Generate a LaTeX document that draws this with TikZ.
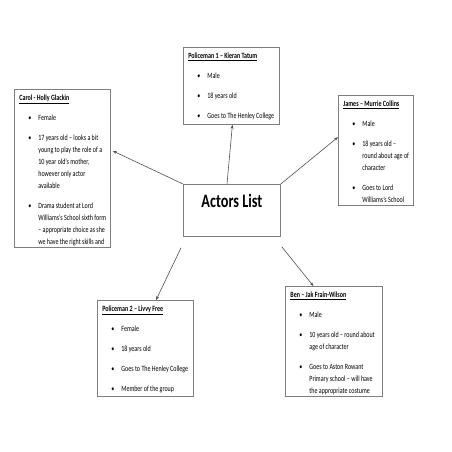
\documentclass[tikz,border=0pt]{standalone}
\usepackage{fontspec}
\setmainfont{Carlito}[FakeStretch=0.75]
\usepackage{tikz}
\usetikzlibrary{calc,arrows.meta}
\definecolor{boxgray}{HTML}{7F7F7F}
\definecolor{arrgray}{HTML}{505050}

% one actor card: width, height, contents
\newcommand{\castcard}[3]{\parbox[c][#2][t]{#1}{\fontsize{8}{12}\selectfont
  \parindent=0pt\parskip=8pt\leftskip=5pt\rightskip=-6pt plus 1fil
  \vspace*{-2.5pt}#3\par}}
\newcommand{\castrole}[1]{{\fontsize{8}{12}\selectfont\bfseries\underline{#1}}\par}
\newcommand{\castitem}[1]{\hangindent=19pt\hangafter=1\noindent
  \makebox[19pt][l]{\hspace{9pt}\textbullet}#1\par}

\begin{document}
\begin{tikzpicture}[x=1pt, y=-1pt,
   card/.style={draw=boxgray, line width=0.8pt, inner sep=0pt, anchor=north west},
   link/.style={->, draw=arrgray, line width=0.6pt},
   >={Stealth[length=4pt,width=3pt]}]
  \useasboundingbox (0,0) rectangle (452,452);
  \node[card] (actors) at (183,184) {\parbox[c][52pt][t]{97pt}{\vspace*{10pt}\centering
     \fontsize{19}{20}\selectfont\bfseries Actors List}};
  \node[card] (pol1) at (183,47) {\castcard{96pt}{77pt}{%
     \castrole{Policeman 1 – Kieran Tatum}
     \castitem{Male}
     \castitem{18 years old}
     \castitem{Goes to The Henley College}}};
  \node[card] (carol) at (14,89) {\castcard{96pt}{158pt}{%
     \castrole{Carol - Holly Glackin}
     \castitem{Female}
     \castitem{17 years old – looks a bit\\young to play the role of a\\10 year old’s mother,\\however only actor\\available}
     \castitem{Drama student at Lord\\Williams’s School sixth form\\– appropriate choice as she\\we have the right skills and}}};
  \node[card] (james) at (338,95) {\castcard{75pt}{110pt}{%
     \castrole{James – Murrie Collins}
     \castitem{Male}
     \castitem{18 years old –\\round about age of\\character}
     \castitem{Goes to Lord\\Williams’s School}}};
  \node[card] (pol2) at (97,300) {\castcard{96pt}{96pt}{%
     \castrole{Policeman 2 – Livvy Free}
     \castitem{Female}
     \castitem{18 years old}
     \castitem{Goes to The Henley College}
     \castitem{Member of the group}}};
  \node[card] (ben) at (285,286) {\castcard{97pt}{110pt}{%
     \castrole{Ben – Jak Frain-Wilson}
     \castitem{Male}
     \castitem{10 years old – round about\\age of character}
     \castitem{Goes to Aston Rowant\\Primary school – will have\\the appropriate costume}}};
  % links from the centre
  \draw[link] ($(actors.north west)!0.45!(actors.north east)$) -- ($(pol1.south)+(1,0)$);
  \draw[link] (actors.north west) -- ($(carol.north east)!0.39!(carol.south east)+(2,0)$);
  \draw[link] (actors.north east) -- ($(james.north west)!0.38!(james.south west)$);
  \draw[link] ($(actors.south west)+(-2,11)$) -- ($(pol2.north west)!0.61!(pol2.north east)$);
  \draw[link] ($(actors.south east)+(1,10)$) -- ($(ben.north west)!0.29!(ben.north east)$);
\end{tikzpicture}
\end{document}
